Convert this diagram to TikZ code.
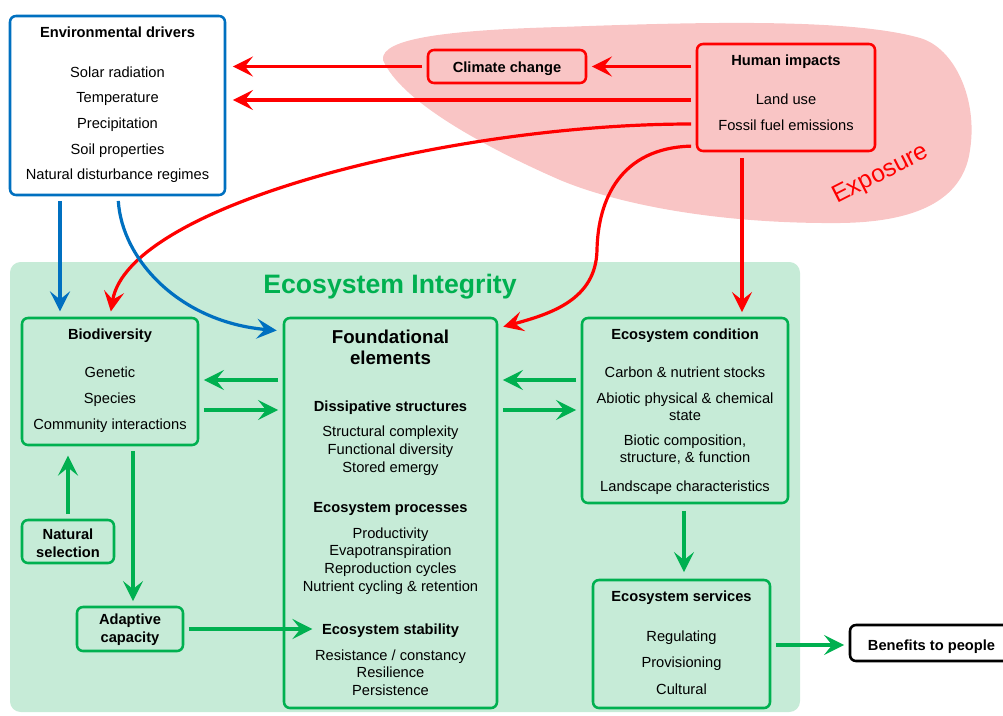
\documentclass[tikz,border=0pt]{standalone}
\usepackage{fontspec}
\setmainfont{Liberation Sans}
\usetikzlibrary{arrows.meta, fit}
\definecolor{egreen}{HTML}{00B050}
\definecolor{efill}{HTML}{C6EBD7}
\definecolor{eblue}{HTML}{0070C0}
\definecolor{ered}{HTML}{FF0000}
\definecolor{epink}{HTML}{F9C5C5}
\tikzset{
  box/.style={draw, line width=1.9pt, rounded corners=4.5pt, inner sep=0pt},
  gbox/.style={box, draw=egreen},
  bbox/.style={box, draw=eblue, fill=white},
  rbox/.style={box, draw=ered},
  kbox/.style={box, draw=black, fill=white},
  txt/.style={inner sep=0pt, font=\fontsize{11}{13}\selectfont, text height=8.6pt, text depth=0pt},
  ttl/.style={txt, font=\fontsize{11}{13}\selectfont\bfseries},
  two/.style={inner sep=0pt, align=center, font=\fontsize{11}{12.75}\selectfont},
  arr/.style={line width=2.4pt, shorten <=3.5pt, shorten >=3.5pt,
    -{Stealth[length=15pt, width=15pt, inset=6pt]}},
  rarr/.style={arr, draw=ered},
  barr/.style={arr, draw=eblue},
  garr/.style={arr, draw=egreen}
}
\begin{document}
\begin{tikzpicture}[x=0.75pt, y=-0.75pt]
\useasboundingbox (0,0) rectangle (1003,715);
% exposure cloud
\fill[epink] (383,60) .. controls (380,38) and (450,30) .. (560,27)
  .. controls (700,22) and (850,18) .. (920,38)
  .. controls (955,48) and (978,100) .. (970,150)
  .. controls (964,195) and (925,222) .. (840,223)
  .. controls (720,224) and (620,205) .. (560,180)
  .. controls (480,145) and (400,100) .. (383,60);
\node[font=\fontsize{18.5}{20}\selectfont, text=ered, rotate=27] (Expo) at (881,175) {Exposure};
% integrity area
\node[fit={(10,262) (800,712)}, fill=efill, rounded corners=8pt, inner sep=0pt] (EI) {};
\node[font=\fontsize{20}{24}\selectfont\bfseries, text=egreen] (EIt) at (390,287) {Ecosystem Integrity};

% boxes
\node[bbox, fit={(10,16) (225,195)}] (Env) {};
\node[rbox, fit={(428,50) (586,83)}] (Clim) {};
\node[rbox, fit={(697,44) (875,151)}] (Hum) {};
\node[gbox, fit={(22,318) (198,445)}] (Bio) {};
\node[gbox, fit={(284,318) (497,708)}] (Found) {};
\node[gbox, fit={(582,318) (788,503)}] (Cond) {};
\node[gbox, fit={(593,580) (770,708)}] (Serv) {};
\node[gbox, fit={(22,520) (114,563)}] (Nat) {};
\node[gbox, fit={(77,607) (183,651)}] (Ada) {};
\node[kbox, fit={(850,625) (1012,661)}] (Ben) {};

% texts
\node[ttl] (EnvT) at (117.5,32) {Environmental drivers};
\node[txt] (Env1) at (117.5,72) {Solar radiation};
\node[txt] (Env2) at (117.5,97) {Temperature};
\node[txt] (Env3) at (117.5,123) {Precipitation};
\node[txt] (Env4) at (117.5,149) {Soil properties};
\node[txt] (Env5) at (117.5,174) {Natural disturbance regimes};
\node[ttl] (ClimT) at (507,67) {Climate change};
\node[ttl] (HumT) at (786,60) {Human impacts};
\node[txt] (Hum1) at (786,99) {Land use};
\node[txt] (Hum2) at (786,125) {Fossil fuel emissions};
\node[ttl] (BioT) at (110,334) {Biodiversity};
\node[txt] (Bio1) at (110,372) {Genetic};
\node[txt] (Bio2) at (110,398) {Species};
\node[txt] (Bio3) at (110,424) {Community interactions};
\node[two, font=\fontsize{14}{15.75}\selectfont\bfseries] (FoundT) at (390.5,347.5) {Foundational\\elements};
\node[ttl] (Diss) at (390.5,406) {Dissipative structures};
\node[txt] (Diss1) at (390.5,431) {Structural complexity};
\node[txt] (Diss2) at (390.5,449) {Functional diversity};
\node[txt] (Diss3) at (390.5,467) {Stored emergy};
\node[ttl] (Proc) at (390.5,507) {Ecosystem processes};
\node[txt] (Proc1) at (390.5,533) {Productivity};
\node[txt] (Proc2) at (390.5,550) {Evapotranspiration};
\node[txt] (Proc3) at (390.5,568) {Reproduction cycles};
\node[txt] (Proc4) at (390.5,586) {Nutrient cycling \& retention};
\node[ttl] (Stab) at (390.5,629) {Ecosystem stability};
\node[txt] (Stab1) at (390.5,655) {Resistance / constancy};
\node[txt] (Stab2) at (390.5,672) {Resilience};
\node[txt] (Stab3) at (390.5,690) {Persistence};
\node[ttl] (CondT) at (685,334) {Ecosystem condition};
\node[txt] (Cond1) at (685,372) {Carbon \& nutrient stocks};
\node[two] (Cond2) at (685,406.5) {Abiotic physical \& chemical\\state};
\node[two] (Cond3) at (685,450) {Biotic composition,\\structure, \& function};
\node[txt] (Cond4) at (685,486) {Landscape characteristics};
\node[ttl] (ServT) at (681.5,596) {Ecosystem services};
\node[txt] (Serv1) at (681.5,636) {Regulating};
\node[txt] (Serv2) at (681.5,662) {Provisioning};
\node[txt] (Serv3) at (681.5,689) {Cultural};
\node[two, font=\fontsize{11}{13.5}\selectfont\bfseries] (NatT) at (68,543) {Natural\\selection};
\node[two, font=\fontsize{11}{13.5}\selectfont\bfseries] (AdaT) at (130,630) {Adaptive\\capacity};
\node[ttl] (BenT) at (931.5,645) {Benefits to people};

% red links
\draw[rarr] (Hum.west |- Clim.east) -- (Clim.east);
\draw[rarr, shorten >=5pt] (Clim.west) -- (Env.east |- Clim.west);
\draw[rarr, shorten >=5pt] (Hum.west |- 0,100) -- (Env.east |- 0,100);
\draw[rarr, shorten >=4pt] (Hum.west |- 0,124) .. controls (450,124) and (128,205) .. (Bio.north);
\draw[rarr, shorten >=0pt] (Hum.west |- 0,146) .. controls (620,148) and (598,200) .. (597,250)
  .. controls (596,300) and (550,314) .. ([shift={(5,10)}]Found.north east);
\draw[rarr, shorten <=4.5pt] (Hum.south -| 742,0) -- (Cond.north -| 742,0);
% blue links
\draw[barr, shorten >=4pt] (Env.south -| 60,0) -- (Bio.north -| 60,0);
\draw[barr, shorten >=4.5pt] (Env.south -| 118,0) .. controls (122,260) and (180,322) .. (Found.west |- 0,331);
% green links
\draw[garr] (Found.west |- 0,380) -- (Bio.east |- 0,380);
\draw[garr] (Bio.east |- 0,410) -- (Found.west |- 0,410);
\draw[garr] (Cond.west |- 0,380) -- (Found.east |- 0,380);
\draw[garr] (Found.east |- 0,410) -- (Cond.west |- 0,410);
\draw[garr, shorten >=7pt] (Nat.north) -- (Bio.south -| Nat.north);
\draw[garr] (Bio.south -| 133,0) -- (Ada.north -| 133,0);
\draw[garr, shorten >=7pt] (Ada.east) -- (Stab.west);
\draw[garr, shorten <=5pt, shorten >=5pt] (Cond.south -| 684,0) -- (Serv.north -| 684,0);
\draw[garr] (Serv.east |- BenT) -- (Ben.west |- BenT);
\end{tikzpicture}
\end{document}
